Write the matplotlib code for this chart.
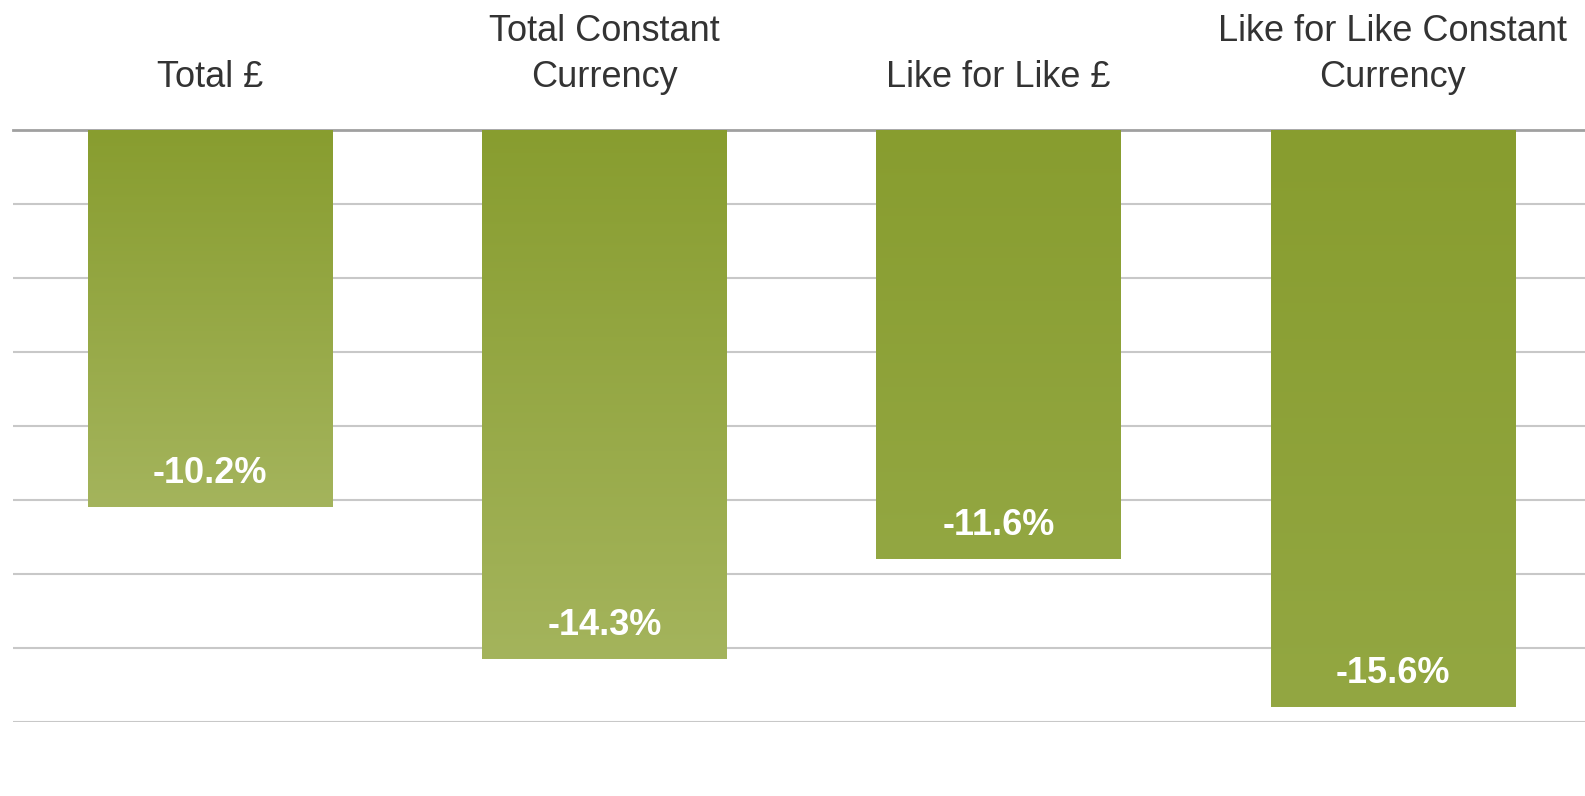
import numpy as np
import matplotlib.pyplot as plt
from matplotlib.colors import LinearSegmentedColormap

plt.rcParams['font.family'] = ['Liberation Sans', 'DejaVu Sans']

categories = ["Total £", "Total Constant\nCurrency", "Like for Like £", "Like for Like Constant\nCurrency"]
values = [-10.2, -14.3, -11.6, -15.6]
labels = ["-10.2%", "-14.3%", "-11.6%", "-15.6%"]

# gradient colours per bar (top, bottom)
grad = [("#889d2f", "#a4b45c"), ("#889d2f", "#a4b45c"),
        ("#889d2f", "#93a742"), ("#889d2f", "#93a742")]

fig = plt.figure(figsize=(15.85, 7.96), dpi=100)
ax = fig.add_axes([13/1585, 74/796, 1577/1585, (722-129.5)/796])

x = np.arange(len(values))
bars = ax.bar(x, values, width=0.62, color='none', edgecolor='none', zorder=3)

for b, (c1, c2) in zip(bars, grad):
    cmap = LinearSegmentedColormap.from_list('g', [c1, c2], N=256)
    x0, w = b.get_x(), b.get_width()
    y1 = b.get_y() + b.get_height()
    img = ax.imshow(np.linspace(0, 1, 256).reshape(-1, 1), cmap=cmap, aspect='auto',
                    extent=[x0, x0 + w, y1, 0], origin='upper', zorder=3, interpolation='bilinear')
    img.set_clip_path(b)

for xi, v, lab in zip(x, values, labels):
    ax.annotate(lab, (xi, v), xytext=(0, 24), textcoords='offset points',
                ha='center', va='center', color='white', fontsize=26, fontweight='bold', zorder=4)

ax.set_xlim(-0.5, 3.5)
ax.set_ylim(-16, 0)
ax.set_yticks(np.arange(-16, 0.1, 2))
ax.yaxis.grid(True, color='#c8c8c8', linewidth=1.5, zorder=0)
ax.set_axisbelow(True)
ax.tick_params(axis='y', left=False, labelleft=False)

ax.xaxis.tick_top()
ax.set_xticks(x)
ax.set_xticklabels(categories, fontsize=26, color='#333333', linespacing=1.42)
ax.tick_params(axis='x', top=False, pad=21)

for s in ['left', 'right', 'bottom']:
    ax.spines[s].set_visible(False)
ax.spines['top'].set_color('#a0a0a0')
ax.spines['top'].set_linewidth(2)

fig.savefig('out.png', dpi=100)
